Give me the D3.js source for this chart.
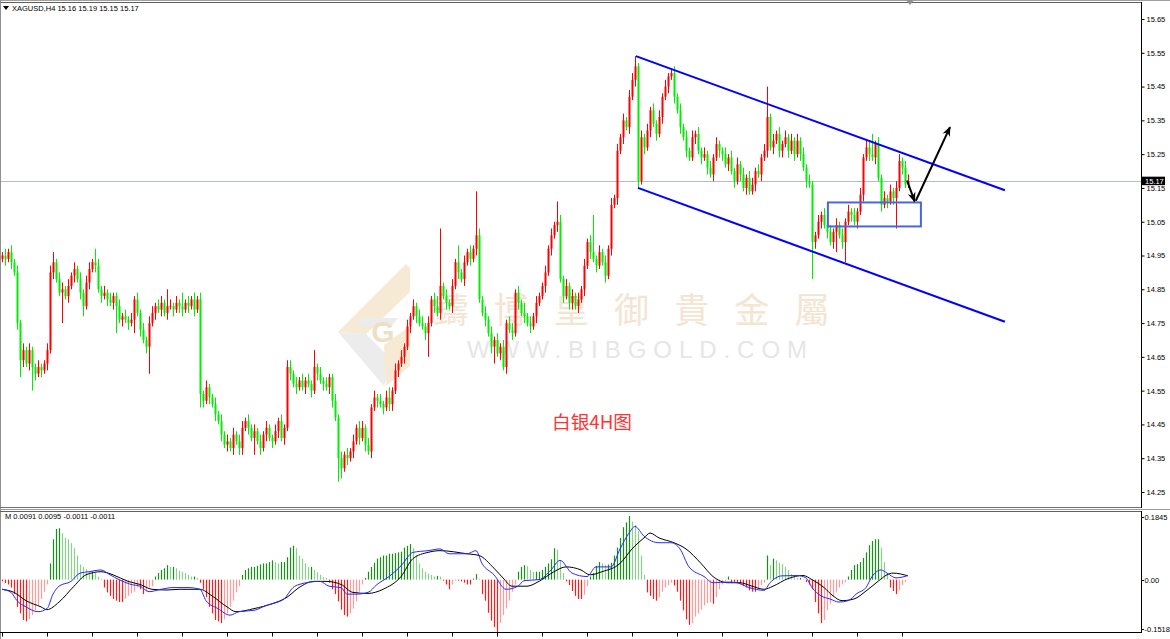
<!DOCTYPE html>
<html><head><meta charset="utf-8">
<script src="https://cdn.jsdelivr.net/npm/d3@7"></script>
<style>html,body{margin:0;padding:0;background:#fff;overflow:hidden}svg{display:block}</style>
</head><body>
<svg id="c" width="1170" height="639"></svg>
<script>
// ---------------- DATA ----------------
const headerText = "XAGUSD,H4  15.16 15.19 15.15 15.17";
const macdHeader = "M 0.0091 0.0095 -0.0011 -0.0011";
const firstOpen = 14.94;
const closes = [
14.95,14.94,14.96,14.93,14.90,14.75,14.64,14.67,14.63,14.67,
14.62,14.60,14.62,14.61,14.63,14.67,14.90,14.93,14.88,14.84,
14.85,14.83,14.86,14.89,14.91,14.88,14.84,14.80,14.87,14.91,
14.93,14.92,14.85,14.83,14.84,14.82,14.81,14.83,14.80,14.76,
14.77,14.76,14.75,14.76,14.82,14.78,14.73,14.70,14.68,14.75,
14.78,14.80,14.79,14.81,14.78,14.80,14.80,14.79,14.81,14.80,
14.79,14.81,14.80,14.82,14.79,14.82,14.54,14.52,14.56,14.53,
14.51,14.48,14.46,14.42,14.39,14.40,14.38,14.42,14.40,14.38,
14.44,14.46,14.44,14.41,14.43,14.40,14.38,14.42,14.44,14.41,
14.40,14.43,14.46,14.41,14.44,14.62,14.60,14.57,14.56,14.58,
14.56,14.58,14.57,14.55,14.62,14.60,14.58,14.57,14.56,14.59,
14.52,14.47,14.35,14.32,14.36,14.35,14.37,14.40,14.44,14.41,
14.44,14.39,14.37,14.50,14.53,14.52,14.51,14.50,14.53,14.51,
14.55,14.61,14.63,14.65,14.68,14.74,14.77,14.80,14.77,14.75,
14.74,14.72,14.75,14.82,14.80,14.78,14.86,14.83,14.81,14.80,
14.86,14.93,14.90,14.88,14.93,14.96,14.94,14.97,15.01,14.82,
14.78,14.76,14.72,14.68,14.70,14.66,14.68,14.62,14.75,14.73,
14.72,14.84,14.81,14.78,14.77,14.75,14.74,14.77,14.81,14.83,
14.86,14.90,14.97,15.01,15.04,15.05,14.88,14.83,14.86,14.81,
14.83,14.80,14.82,14.85,14.92,14.99,14.96,14.94,14.92,14.96,
14.93,14.89,14.97,15.10,15.12,15.26,15.30,15.35,15.33,15.42,
15.47,15.51,15.17,15.30,15.27,15.32,15.38,15.34,15.31,15.36,
15.42,15.45,15.48,15.49,15.42,15.38,15.33,15.30,15.26,15.24,
15.30,15.31,15.26,15.24,15.25,15.21,15.19,15.24,15.28,15.26,
15.25,15.22,15.24,15.20,15.17,15.22,15.19,15.15,15.18,15.14,
15.16,15.20,15.19,15.24,15.26,15.36,15.27,15.29,15.31,15.26,
15.28,15.30,15.26,15.29,15.25,15.29,15.25,15.21,15.17,15.16,
14.99,15.01,15.05,15.07,15.04,15.02,14.99,15.02,15.04,15.01,
14.99,15.05,15.08,15.07,15.05,15.08,15.13,15.24,15.27,15.25,
15.24,15.28,15.18,15.10,15.12,15.11,15.14,15.12,15.15,15.23,
15.21,15.16,15.17
];
// wick lengths beyond the body, in cents
const wickUpCents = [
1,2,1,2,1,2,1,2,1,2, 1,1,2,1,1,2,2,3,1,2, 2,1,2,1,2,1,2,1,2,2, 1,4,2,1,2,1,2,1,1,2,
1,2,1,2,1,2,1,2,1,2, 2,1,2,2,1,5,2,1,2,1, 4,1,2,1,2,1,2,1,2,1, 1,2,1,2,1,2,1,2,1,2,
2,1,2,1,2,1,2,1,2,1, 1,2,1,2,1,2,2,1,2,1, 2,1,2,1,5,1,2,1,2,1, 1,2,1,2,1,2,1,2,1,2,
2,1,2,1,2,1,2,1,2,3, 1,2,1,2,1,2,1,2,1,2, 2,1,2,1,2,3,17,1,2,1, 2,1,5,1,2,1,2,1,13,2,
1,2,1,2,1,2,1,2,1,2, 2,1,2,1,3,1,2,1,2,1, 1,2,1,2,1,6,2,1,2,1, 2,1,2,1,2,1,2,11,1,2,
1,2,1,2,1,2,1,2,1,2, 2,3,1,2,1,2,1,2,1,2, 1,2,1,1,2,1,2,1,2,1, 2,1,2,1,2,1,2,1,2,1,
1,2,1,2,1,2,1,2,1,2, 2,1,2,1,2,9,1,2,1,2, 1,2,1,2,1,2,1,2,1,2, 1,1,2,1,2,1,2,1,2,1,
2,1,2,1,2,1,2,1,2,2, 6,1,2,1,2,1,2,1,2,2, 1,2,2
];
const wickDnCents = [
1,2,1,2,1,2,5,2,1,2, 7,2,1,2,1,2,1,2,1,1, 9,1,2,1,2,1,2,3,1,2, 1,2,1,2,1,2,1,2,8,1,
2,1,2,1,4,1,2,1,2,8, 1,2,1,2,1,2,1,2,1,2, 2,1,2,1,2,1,4,2,1,2, 1,2,1,2,1,2,1,2,1,2,
2,1,2,1,5,1,2,1,2,1, 2,1,2,1,2,1,2,1,2,1, 1,2,1,2,1,2,1,2,1,2, 2,1,7,3,1,2,1,2,1,2,
1,2,1,2,1,2,1,2,1,2, 2,1,2,1,2,1,2,1,2,1, 1,2,7,1,2,1,2,1,2,1, 2,1,2,1,2,1,2,1,2,1,
1,2,1,2,5,1,2,1,2,1, 2,1,2,1,2,1,2,1,2,1, 1,2,1,2,1,2,1,2,1,2, 2,1,2,1,2,1,2,1,2,1,
1,2,1,2,1,2,1,2,1,2, 1,2,2,1,2,1,2,1,2,1, 2,1,2,1,2,1,2,1,2,1, 1,2,1,2,1,2,1,2,1,2,
2,1,2,1,2,1,2,1,2,1, 1,2,1,2,1,2,1,2,1,2, 2,1,2,1,2,1,2,1,2,1, 11,2,1,2,1,2,1,2,6,1,
2,6,1,2,1,2,1,2,1,2, 1,2,1,2,1,2,1,2,9,1, 2,1,1
];
const macdHist = [
-0.005,-0.010,-0.014,-0.023,-0.042,-0.079,-0.098,-0.117,-0.121,-0.115,
-0.103,-0.089,-0.075,-0.056,-0.035,-0.014,0.047,0.117,0.147,0.149,
0.135,0.121,0.117,0.106,0.091,0.070,0.044,0.037,0.031,0.023,
0.023,0.019,0.009,0.003,-0.023,-0.037,-0.047,-0.056,-0.061,-0.065,
-0.065,-0.056,-0.047,-0.040,-0.035,-0.023,-0.028,-0.042,-0.033,-0.023,
-0.019,0.009,0.019,0.028,0.033,0.042,0.037,0.037,0.033,0.026,
0.023,0.019,0.014,0.009,0.009,0.005,-0.009,-0.028,-0.051,-0.079,
-0.098,-0.117,-0.121,-0.126,-0.115,-0.098,-0.079,-0.061,-0.037,-0.019,
0.014,0.028,0.033,0.037,0.037,0.040,0.044,0.047,0.047,0.051,
0.056,0.051,0.047,0.051,0.051,0.065,0.093,0.098,0.091,0.070,
0.061,0.047,0.037,0.037,0.028,0.021,0.014,0.007,0.005,-0.009,
-0.028,-0.042,-0.063,-0.087,-0.103,-0.107,-0.098,-0.084,-0.063,-0.035,
-0.014,0.005,0.023,0.037,0.049,0.061,0.065,0.070,0.070,0.075,
0.075,0.077,0.079,0.081,0.093,0.098,0.103,0.091,0.072,0.047,
0.033,0.023,0.017,0.014,0.009,0.011,0.009,-0.003,-0.014,-0.028,
-0.014,-0.003,-0.003,-0.005,-0.009,-0.014,-0.014,0.003,0.016,0.003,
-0.042,-0.061,-0.096,-0.119,-0.137,-0.1518,-0.126,-0.103,-0.084,-0.061,
-0.035,-0.014,0.023,0.037,0.042,0.039,0.028,0.023,0.023,0.023,
0.028,0.037,0.047,0.059,0.091,0.087,0.056,0.019,-0.005,-0.016,
-0.033,-0.047,-0.056,-0.056,-0.044,-0.019,0.009,0.019,0.040,0.051,
0.047,0.042,0.044,0.049,0.070,0.093,0.121,0.152,0.166,0.1845,
0.168,0.159,0.140,0.070,0.014,-0.037,-0.047,-0.056,-0.061,-0.051,
-0.035,-0.023,-0.016,-0.009,-0.017,-0.035,-0.061,-0.089,-0.115,-0.131,
-0.126,-0.107,-0.098,-0.087,-0.075,-0.068,-0.065,-0.070,-0.051,-0.028,
-0.014,-0.005,0.009,-0.009,-0.009,-0.009,-0.014,-0.019,-0.023,-0.031,
-0.035,-0.035,-0.025,-0.016,-0.009,0.070,0.042,0.061,0.056,0.049,
0.045,0.037,0.028,0.016,0.009,0.005,0.005,0.002,-0.007,-0.014,
-0.028,-0.065,-0.098,-0.126,-0.117,-0.089,-0.070,-0.049,-0.037,-0.023,
-0.014,-0.007,0.009,0.028,0.042,0.045,0.051,0.063,0.079,0.100,
0.112,0.117,0.117,0.093,0.051,0.014,-0.023,-0.033,-0.042,-0.031,
-0.016,-0.007,-0.0011
];
const macdBlue = [
[0,-0.028],[3,-0.037],[5,-0.061],[8,-0.079],[12,-0.093],[15,-0.084],[17,-0.042],[19,-0.019],[23,-0.005],
[26,0.019],[29,0.023],[33,0.028],[36,0.014],[39,0],[43,-0.014],[46,-0.019],[49,-0.035],[53,-0.028],
[57,-0.023],[62,-0.023],[66,-0.028],[68,-0.061],[72,-0.084],[76,-0.103],[79,-0.093],[84,-0.089],
[88,-0.075],[94,-0.056],[97,-0.023],[99,-0.014],[106,-0.005],[109,-0.019],[113,-0.023],[115,-0.042],
[118,-0.042],[122,-0.037],[125,-0.014],[129,0.009],[133,0.040],[137,0.079],[142,0.084],[146,0.089],
[149,0.075],[155,0.075],[158,0.084],[160,0.047],[164,0.014],[168,-0.028],[172,-0.019],[174,-0.003],
[179,0],[183,0.028],[186,0.056],[190,0.019],[195,0.009],[198,0.037],[203,0.037],[206,0.089],
[209,0.135],[211,0.154],[214,0.126],[219,0.107],[223,0.107],[226,0.089],[229,0.037],[234,0.009],
[237,-0.009],[242,-0.007],[245,-0.009],[249,-0.023],[254,-0.031],[256,-0.009],[260,0.011],[265,0.012],
[268,0.005],[270,-0.023],[273,-0.047],[276,-0.056],[279,-0.065],[282,-0.061],[285,-0.040],[288,-0.023],
[290,0.009],[293,0.028],[295,0.019],[298,0.005],[302,0.012]
];
const macdBlack = [
[0,-0.028],[4,-0.037],[8,-0.061],[13,-0.079],[15,-0.087],[19,-0.065],[24,-0.019],[28,0.014],[33,0.023],
[37,0.014],[42,-0.005],[46,-0.014],[50,-0.028],[55,-0.030],[59,-0.028],[66,-0.028],[70,-0.047],
[75,-0.079],[78,-0.093],[84,-0.084],[90,-0.070],[95,-0.051],[99,-0.023],[104,-0.005],[108,-0.005],
[113,-0.014],[117,-0.037],[122,-0.040],[127,-0.028],[133,0.009],[137,0.061],[142,0.079],[146,0.084],
[155,0.075],[159,0.070],[164,0.033],[167,0.005],[170,-0.019],[175,-0.019],[179,-0.005],[184,0.023],
[188,0.037],[193,0.028],[196,0.014],[200,0.023],[206,0.047],[210,0.089],[214,0.121],[216,0.135],
[219,0.121],[224,0.107],[228,0.089],[233,0.047],[237,0.009],[242,-0.009],[246,-0.009],[250,-0.019],
[254,-0.028],[257,-0.019],[262,0.003],[267,0.012],[270,0],[274,-0.023],[277,-0.047],[280,-0.061],
[284,-0.056],[288,-0.033],[292,-0.005],[295,0.014],[297,0.019],[302,0.011]
];
const priceTicks = [15.65,15.55,15.45,15.35,15.25,15.15,15.05,14.95,14.85,14.75,14.65,14.55,14.45,14.35,14.25];
const macdTicks = [0.1845, 0.00, -0.1518];
const lastPrice = 15.17;
const timeTickStep = 15;
// annotations (candle index, price)
const channelUpper = [[211.3,15.54],[334.3,15.143]];
const channelLower = [[212,15.15],[334.3,14.754]];
const zoneBox = [[275.3,15.107],[306.3,15.036]];
const arrowDown = [[301.7,15.172],[304.2,15.11]];
const arrowUp = [[304.6,15.112],[316.0,15.33]];
const wmChars = ["鑄","博","皇","御","貴","金","屬"];
const wmUrl = "WWW.BIBGOLD.COM";
const chartLabel = "白银4H图";

// ---------------- DRAW ----------------
const FONT = "Liberation Sans, Arial, sans-serif";
const svg = d3.select("#c");
const N = closes.length;
const opens = closes.map((c,i)=> i===0 ? firstOpen : closes[i-1]);
const highs = closes.map((c,i)=> Math.max(c,opens[i]) + wickUpCents[i]/100);
const lows  = closes.map((c,i)=> Math.min(c,opens[i]) - wickDnCents[i]/100);

const AX = 1141;          // right axis x
const x = d3.scaleLinear().domain([0,302]).range([2,908]);
const y = d3.scaleLinear().domain([14.25,15.65]).range([492,19]);
const ym = d3.scaleLinear().domain([-0.1518,0.1845]).range([632,516]);

svg.append("rect").attr("width",1170).attr("height",639).attr("fill","#fff");

// ---- watermark (behind) ----
const wm = svg.append("g");
wm.append("path").attr("d","M338,332 L406,264 L410,268 L410,292 L366,334 Z").attr("fill","#f6ead5");
wm.append("path").attr("d","M338,332 L366,334 L392,360 L384,386 Z").attr("fill","#ececec");
wm.append("path").attr("d","M384,345 L410,326 L410,366 L386,386 Z").attr("fill","#f6ead5");
wm.append("path").attr("d","M356,318 L398,318 L392,326 L362,326 Z").attr("fill","#ececec");
wm.append("text").attr("x",383).attr("y",342).attr("text-anchor","middle")
  .attr("font-family",FONT).attr("font-weight","bold").attr("font-size",30)
  .attr("fill","#efdfc6").text("G");
const wmX = d3.scalePoint().domain(d3.range(wmChars.length)).range([451,812]);
wm.selectAll("text.ch").data(wmChars).join("text").attr("class","ch")
  .attr("x",(d,i)=>wmX(i)).attr("y",323).attr("text-anchor","middle")
  .attr("font-family","Noto Sans CJK TC").attr("font-size",35)
  .attr("fill","#f3e5d2").text(d=>d);
wm.append("text").attr("x",467).attr("y",358).attr("textLength",340).attr("lengthAdjust","spacing")
  .attr("font-family",FONT).attr("font-size",24)
  .attr("fill","#e6e6e6").text(wmUrl);

// ---- current price line ----
svg.append("line").attr("x1",0).attr("x2",AX).attr("y1",Math.round(y(lastPrice))+0.5).attr("y2",Math.round(y(lastPrice))+0.5)
  .attr("stroke","#b4bcc4").attr("stroke-width",1);

// ---- candles ----
const UP="#ff0000", DN="#00ee00";
const cg = svg.append("g");
cg.selectAll("line.w").data(closes).join("line").attr("class","w")
  .attr("x1",(d,i)=>Math.round(x(i))+0.5).attr("x2",(d,i)=>Math.round(x(i))+0.5)
  .attr("y1",(d,i)=>y(highs[i])).attr("y2",(d,i)=>y(lows[i]))
  .attr("stroke",(d,i)=> d>=opens[i]?UP:DN).attr("stroke-width",1);
cg.selectAll("rect.b").data(closes).join("rect").attr("class","b")
  .attr("x",(d,i)=>Math.round(x(i))-0.5).attr("width",2)
  .attr("y",(d,i)=>y(Math.max(d,opens[i])))
  .attr("height",(d,i)=>Math.max(1,Math.abs(y(d)-y(opens[i]))))
  .attr("fill",(d,i)=> d>=opens[i]?UP:DN);

// ---- annotations ----
const pl = d3.line().x(d=>x(d[0])).y(d=>y(d[1]));
svg.append("path").attr("d",pl(channelUpper)).attr("stroke","#0000ff").attr("stroke-width",2).attr("fill","none");
svg.append("path").attr("d",pl(channelLower)).attr("stroke","#0000ff").attr("stroke-width",2).attr("fill","none");
svg.append("rect").attr("x",x(zoneBox[0][0])).attr("y",y(zoneBox[0][1]))
  .attr("width",x(zoneBox[1][0])-x(zoneBox[0][0])).attr("height",y(zoneBox[1][1])-y(zoneBox[0][1]))
  .attr("fill","none").attr("stroke","#4a64e6").attr("stroke-width",2);
const defs = svg.append("defs");
defs.append("marker").attr("id","ah").attr("viewBox","0 0 10 10").attr("refX",9).attr("refY",5)
  .attr("markerWidth",5).attr("markerHeight",5).attr("orient","auto")
  .append("path").attr("d","M0,1 L10,5 L0,9 L3,5 Z").attr("fill","#000");
[arrowDown,arrowUp].forEach(a=>{
  svg.append("path").attr("d",pl(a)).attr("stroke","#000").attr("stroke-width",2)
    .attr("fill","none").attr("marker-end","url(#ah)");
});

// chart label
svg.append("text").attr("x",552).attr("y",429).attr("textLength",80).attr("lengthAdjust","spacingAndGlyphs")
  .attr("font-family","Noto Sans CJK SC").attr("font-size",18).attr("fill","#ff3333").text(chartLabel);

// ---- frames ----
svg.append("line").attr("x1",0).attr("x2",1170).attr("y1",0.5).attr("y2",0.5).attr("stroke","#a0a0a0");
svg.append("line").attr("x1",0).attr("x2",AX).attr("y1",2.5).attr("y2",2.5).attr("stroke","#606060");
svg.append("line").attr("x1",0.5).attr("x2",0.5).attr("y1",0).attr("y2",639).attr("stroke","#909090");
svg.append("line").attr("x1",0).attr("x2",AX).attr("y1",507.5).attr("y2",507.5).attr("stroke","#707070");
svg.append("line").attr("x1",0).attr("x2",1170).attr("y1",509.5).attr("y2",509.5).attr("stroke","#9a9a9a");
svg.append("line").attr("x1",0).attr("x2",AX).attr("y1",511.5).attr("y2",511.5).attr("stroke","#606060");
svg.append("line").attr("x1",AX+0.5).attr("x2",AX+0.5).attr("y1",2).attr("y2",508).attr("stroke","#000");
svg.append("line").attr("x1",AX+0.5).attr("x2",AX+0.5).attr("y1",511).attr("y2",633).attr("stroke","#000");
svg.append("line").attr("x1",0).attr("x2",AX+1).attr("y1",632.5).attr("y2",632.5).attr("stroke","#000");
// chart shift marker
svg.append("path").attr("d","M906,0 L914,0 L910,5 Z").attr("fill","#909090");

// ---- header ----
svg.append("path").attr("d","M3,6 L9,6 L6,10 Z").attr("fill","#000");
svg.append("text").attr("x",12).attr("y",11).attr("font-family",FONT)
  .attr("font-size",7.5).attr("fill","#000").text(headerText);

// ---- right price axis ----
const yAxis = d3.axisRight(y).tickValues(priceTicks).tickSize(3).tickPadding(2).tickFormat(d3.format(".2f"));
const ga = svg.append("g").attr("transform",`translate(${AX+0.5},0)`).call(yAxis);
ga.select(".domain").remove();
ga.selectAll("text").attr("font-family",FONT).attr("font-size",7.5).attr("fill","#000");
ga.selectAll("line").attr("stroke","#000");
// current price label
const ly = y(lastPrice);
svg.append("rect").attr("x",AX+1).attr("y",ly-4.5).attr("width",23).attr("height",8.5).attr("fill","#000");
svg.append("text").attr("x",AX+4).attr("y",ly+2.6).attr("font-family",FONT)
  .attr("font-size",7.5).attr("fill","#fff").text(lastPrice.toFixed(2));

// ---- MACD panel ----
const mg = svg.append("g");
mg.selectAll("line.h").data(macdHist).join("line").attr("class","h")
  .attr("x1",(d,i)=>Math.round(x(i))+0.5).attr("x2",(d,i)=>Math.round(x(i))+0.5)
  .attr("y1",ym(0)).attr("y2",d=>ym(d))
  .attr("stroke",(d,i)=>{
    const p = i>0 ? macdHist[i-1] : 0;
    if (d>=0) return d>=p ? "#179017" : "#8ccf8c";
    return d<=p ? "#ff1a1a" : "#ff9a9a";
  }).attr("stroke-width",1.2);
const ml = d3.line().x(d=>x(d[0])).y(d=>ym(d[1])).curve(d3.curveMonotoneX);
mg.append("path").attr("d",ml(macdBlack)).attr("fill","none").attr("stroke","#000").attr("stroke-width",1);
mg.append("path").attr("d",ml(macdBlue)).attr("fill","none").attr("stroke","#2a2aff").attr("stroke-width",1);
svg.append("text").attr("x",5).attr("y",519).attr("font-family",FONT)
  .attr("font-size",7.5).attr("fill","#000").text(macdHeader);
const mPos = [517, 580, 629];
const mFmt = [d=>d.toFixed(4), d=>d.toFixed(2), d=>d.toFixed(4)];
macdTicks.forEach((v,k)=>{
  svg.append("line").attr("x1",AX+1).attr("x2",AX+3).attr("y1",mPos[k]+0.5).attr("y2",mPos[k]+0.5).attr("stroke","#000");
  svg.append("text").attr("x",AX+3.5).attr("y",mPos[k]+2.5).attr("font-family",FONT)
    .attr("font-size",7.5).attr("fill","#000").text(mFmt[k](v));
});

// ---- time ticks ----
const xAxis = d3.axisBottom(x).tickValues(d3.range(0,N,timeTickStep)).tickSize(4).tickFormat("");
const gx = svg.append("g").attr("transform","translate(0,632.5)").call(xAxis);
gx.select(".domain").remove();
gx.selectAll("line").attr("stroke","#000");
</script>
</body></html>
